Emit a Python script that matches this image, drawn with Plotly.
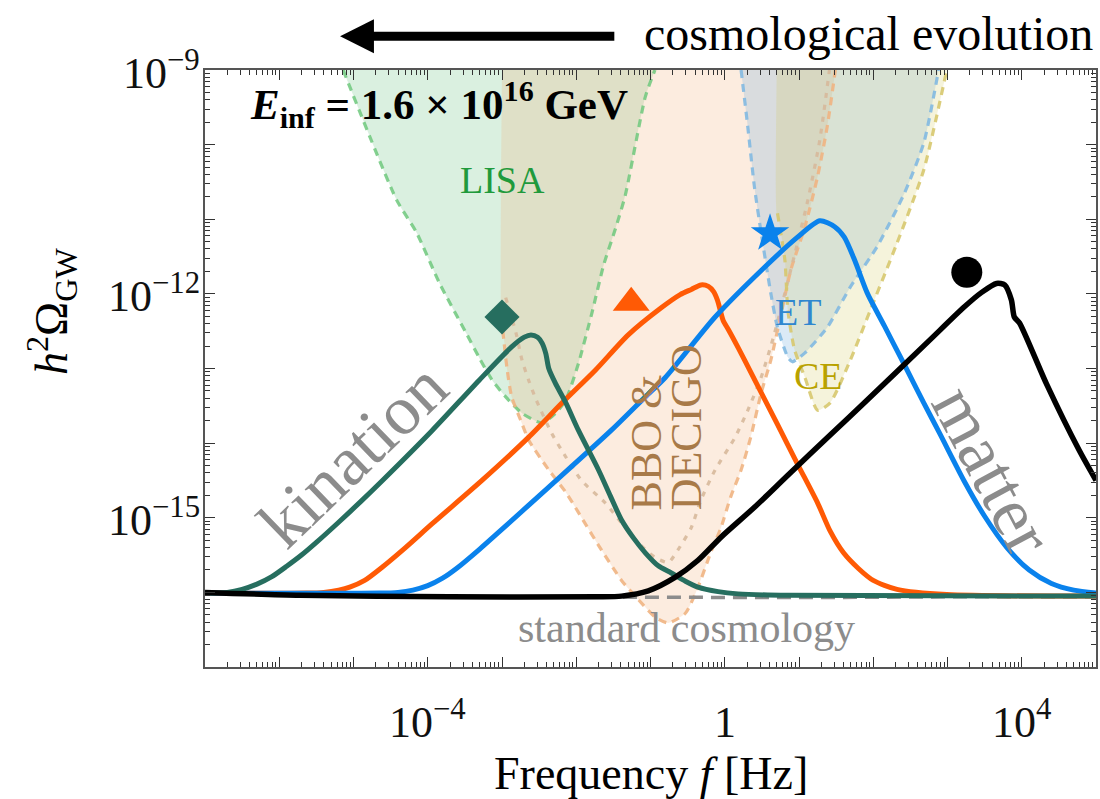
import plotly.graph_objects as go

FONT = "Liberation Serif"

# ---------------------------------------------------------------------------
# GW spectra for different post-inflationary histories
# (log10 of frequency in Hz, log10 of h^2 Omega_GW)
# ---------------------------------------------------------------------------
std_logf = [-7.0, -5.0, -3.0, -1.0, 1.0, 3.0, 5.0]
std_logomega = [-16.0, -16.04, -16.06, -16.07, -16.07, -16.06, -16.06]

kination_logf = [-7.0, -6.7, -6.5, -6.3, -6.1, -5.9, -5.7, -5.5, -5.2, -4.9,
                 -4.61, -3.94, -3.31, -2.87, -2.70, -2.61, -2.52, -2.46, -2.41, -2.37,
                 -2.28, -2.14, -1.97, -1.70, -1.54, -1.39, -1.23, -1.07, -0.90, -0.72,
                 -0.53, -0.36, -0.09, 0.18, 0.85, 5.0]
kination_logomega = [-16.01, -16.0, -15.96, -15.89, -15.79, -15.65, -15.50, -15.33, -15.06, -14.78,
                      -14.50, -13.83, -13.16, -12.71, -12.58, -12.55, -12.58, -12.66, -12.80, -13.00,
                      -13.20, -13.46, -13.83, -14.36, -14.71, -15.03, -15.27, -15.47, -15.64, -15.74,
                      -15.85, -15.93, -15.99, -16.02, -16.04, -16.05]

orange_logf = [-7.0, -5.63, -5.40, -5.20, -5.05, -4.85, -4.61, -4.30, -3.94, -3.27,
               -2.64, -2.19, -1.74, -1.30, -0.86, -0.60, -0.45, -0.32, -0.22, -0.15,
               -0.10, -0.06, -0.02, 0.05, 0.18, 0.35, 0.71, 0.98, 1.25, 1.42,
               1.60, 1.80, 2.00, 2.32, 2.99, 5.0]
orange_logomega = [-16.01, -16.01, -16.0, -15.97, -15.93, -15.84, -15.66, -15.40, -15.08, -14.50,
                   -13.92, -13.46, -13.02, -12.55, -12.19, -12.01, -11.94, -11.88, -11.90, -11.97,
                   -12.08, -12.22, -12.36, -12.48, -12.72, -13.05, -13.75, -14.28, -14.80, -15.18,
                   -15.47, -15.68, -15.84, -15.96, -16.03, -16.05]

blue_logf = [-7.0, -4.65, -4.40, -4.20, -4.00, -3.80, -3.60, -3.30, -3.04, -2.37,
             -1.53, -1.07, -0.80, -0.13, 0.54, 0.98, 1.28, 1.48, 1.61, 1.75,
             1.92, 2.15, 2.42, 2.68, 2.90, 3.22, 3.50, 3.80, 4.10, 4.40,
             4.70, 5.0]
blue_logomega = [-16.01, -16.01, -16.0, -15.97, -15.91, -15.81, -15.67, -15.42, -15.19, -14.59,
                 -13.83, -13.38, -13.12, -12.31, -11.64, -11.24, -11.02, -11.10, -11.24, -11.55,
                 -11.99, -12.43, -12.95, -13.46, -13.88, -14.50, -14.98, -15.40, -15.70, -15.88,
                 -15.97, -16.01]

matter_logf = [-7.0, -5.72, -3.71, -1.70, -1.39, -1.03, -0.67, -0.36, -0.05, 0.40,
               0.85, 1.42, 1.88, 2.76, 3.22, 3.46, 3.66, 3.77, 3.86, 3.90,
               3.97, 4.33, 4.77, 5.0]
matter_logomega = [-16.0, -16.04, -16.06, -16.06, -16.05, -15.98, -15.80, -15.57, -15.26, -14.86,
                   -14.43, -13.89, -13.46, -12.62, -12.18, -11.98, -11.86, -11.88, -12.08, -12.31,
                   -12.39, -13.20, -14.09, -14.50]

# Peak positions marked by symbols
peak_logf = [-3.0, -1.26, 0.61, 3.26]
peak_logomega = [-12.31, -12.12, -11.19, -11.71]

# ---------------------------------------------------------------------------
# Power-law integrated sensitivity curves
# ---------------------------------------------------------------------------
lisa_logf = [-5.14, -4.42, -4.15, -3.84, -3.48, -3.31, -3.13, -2.95, -2.73, -2.46,
             -2.28, -2.14, -1.97, -1.79, -1.63, -1.47, -1.34, -1.07, -0.94]
lisa_logomega = [-9.0, -10.74, -11.18, -11.86, -12.53, -12.85, -13.16, -13.38, -13.60, -13.73,
                 -13.60, -13.42, -12.93, -12.26, -11.61, -11.12, -10.68, -9.36, -9.0]

decigo_logf = [-2.99, -2.93, -2.87, -2.75, -2.64, -2.37, -2.14, -1.70, -1.39, -1.16,
               -0.94, -0.76, -0.53, -0.36, -0.19, -0.05, 0.08, 0.22, 0.35, 0.49,
               0.62, 0.75, 0.89, 1.08, 1.25, 1.38, 1.49]
decigo_logomega = [-12.49, -13.02, -13.38, -13.69, -13.96, -14.36, -14.66, -15.37, -15.84, -16.10,
                   -16.33, -16.41, -16.28, -15.93, -15.47, -15.13, -14.72, -14.36, -13.92, -13.33,
                   -12.89, -12.31, -11.68, -11.10, -10.43, -9.76, -9.0]

bbo_logf = [-2.95, -2.81, -2.73, -2.64, -2.54, -2.33, -2.20, -1.93, -1.61, -1.39,
            -1.16, -0.94, -0.76, -0.63, -0.45, -0.32, -0.13, 0.14, 0.31, 0.49,
            0.67, 0.81, 0.98, 1.12, 1.28, 1.41]
bbo_logomega = [-12.05, -12.53, -12.89, -13.16, -13.42, -13.87, -14.09, -14.50, -14.80, -15.07,
                -15.34, -15.53, -15.60, -15.43, -15.13, -14.76, -14.36, -13.92, -13.56, -13.12,
                -12.53, -11.99, -11.32, -10.74, -9.94, -9.0]
space_fmin_log = -3.0   # lower frequency cut of the BBO / DECIGO curves

et_logf = [0.22, 0.31, 0.40, 0.49, 0.62, 0.71, 0.85, 0.91, 1.08, 1.38,
           1.69, 2.05, 2.42, 2.68, 2.88]
et_logomega = [-9.0, -9.76, -10.57, -11.18, -11.99, -12.45, -12.85, -12.91, -12.79, -12.45,
               -11.91, -11.37, -10.65, -9.98, -9.0]

ce_logf = [0.71, 0.81, 0.85, 0.94, 1.08, 1.25, 1.42, 1.69, 1.96, 2.32, 2.68, 2.99]
ce_logomega = [-10.92, -11.55, -12.22, -12.75, -13.12, -13.56, -13.46, -12.89, -12.22, -11.32,
               -10.34, -9.0]
ce_fmin_log = 0.70      # lower frequency cut of the CE curve

# Axis ranges (log10) and labelled decades
LOG_X_RANGE = [-7, 5]
LOG_Y_RANGE = [-17, -9]
x_label_decades = [-4, 0, 4]
x_label_text = ["10<sup>\u22124</sup>", "1", "10<sup>4</sup>"]
y_label_decades = [-9, -12, -15]
y_label_text = ["10<sup>\u22129</sup>", "10<sup>\u221212</sup>", "10<sup>\u221215</sup>"]


def lin(values):
    return [10.0 ** v for v in values]


fig = go.Figure()


def add_region(logf, logo, fill, fmin_log=None):
    xs, ys = list(logf), list(logo)
    if fmin_log is not None:
        xs = [fmin_log, fmin_log] + xs
        ys = [LOG_Y_RANGE[1], logo[0]] + ys
    fig.add_trace(go.Scatter(
        x=lin(xs), y=lin(ys), mode="lines", fill="toself", fillcolor=fill,
        line=dict(width=0, shape="spline", smoothing=0.6), hoverinfo="skip", showlegend=False))


def add_outline(logf, logo, color, dash):
    fig.add_trace(go.Scatter(
        x=lin(logf), y=lin(logo), mode="lines",
        line=dict(color=color, width=3.2, dash=dash, shape="spline", smoothing=0.6),
        hoverinfo="skip", showlegend=False))


# shaded sensitivity regions
add_region(lisa_logf, lisa_logomega, "rgba(120,200,140,0.27)")
add_region(decigo_logf, decigo_logomega, "rgba(240,170,110,0.22)", space_fmin_log)
add_region(et_logf, et_logomega, "rgba(110,170,220,0.25)")
add_region(ce_logf, ce_logomega, "rgba(210,200,90,0.22)", ce_fmin_log)

# dashed / dotted outlines
add_outline(lisa_logf, lisa_logomega, "rgba(110,200,125,0.85)", "8px,6px")
add_outline(decigo_logf, decigo_logomega, "rgba(240,180,130,0.9)", "8px,6px")
add_outline(bbo_logf, bbo_logomega, "rgba(215,185,155,0.9)", "5px,7px")
add_outline(et_logf, et_logomega, "rgba(130,185,225,0.9)", "8px,6px")
add_outline(ce_logf, ce_logomega, "rgba(215,200,110,0.9)", "8px,6px")

# standard cosmology
fig.add_trace(go.Scatter(
    x=lin(std_logf), y=lin(std_logomega), mode="lines",
    line=dict(color="#8c8c8c", width=3.5, dash="14px,8px"),
    hoverinfo="skip", showlegend=False))

# spectra
spectra = [
    (orange_logf, orange_logomega, "#ff5a05", 5),
    (blue_logf, blue_logomega, "#0a82ec", 5),
    (kination_logf, kination_logomega, "#266e5f", 5),
    (matter_logf, matter_logomega, "#000000", 5.5),
]
for lf, lo, col, w in spectra:
    fig.add_trace(go.Scatter(
        x=lin(lf), y=lin(lo), mode="lines",
        line=dict(color=col, width=w, shape="spline", smoothing=0.7),
        hoverinfo="skip", showlegend=False))

# peak markers
fig.add_trace(go.Scatter(
    x=lin(peak_logf), y=lin(peak_logomega), mode="markers",
    marker=dict(symbol=["diamond", "triangle-up", "star", "circle"],
                size=[27, 32, 29, 31], opacity=1,
                color=["#266e5f", "#ff5a05", "#0a82ec", "#000000"],
                line=dict(width=0)),
    hoverinfo="skip", showlegend=False))

# axes: a long tick on every decade, short ticks on 2..9
x_major = [10.0 ** n for n in range(LOG_X_RANGE[0], LOG_X_RANGE[1] + 1)]
x_minor = [k * 10.0 ** n for n in range(LOG_X_RANGE[0], LOG_X_RANGE[1]) for k in range(2, 10)]
y_major = [10.0 ** n for n in range(LOG_Y_RANGE[0], LOG_Y_RANGE[1] + 1)]
y_minor = [k * 10.0 ** n for n in range(LOG_Y_RANGE[0], LOG_Y_RANGE[1]) for k in range(2, 10)]

axis_common = dict(
    type="log", showgrid=False, zeroline=False, showticklabels=False,
    showline=True, linecolor="#555555", linewidth=1.5, mirror="allticks",
    ticks="inside", ticklen=10, tickwidth=1.3, tickcolor="#333333",
)
fig.update_xaxes(range=LOG_X_RANGE, tickvals=x_major,
                 minor=dict(tickvals=x_minor, ticks="inside", ticklen=5, tickwidth=1.1,
                            tickcolor="#333333"),
                 **axis_common)
fig.update_yaxes(range=LOG_Y_RANGE, tickvals=y_major,
                 minor=dict(tickvals=y_minor, ticks="inside", ticklen=5, tickwidth=1.1,
                            tickcolor="#333333"),
                 **axis_common)

tick_font = dict(family=FONT, size=44, color="#111111")
for d, t in zip(x_label_decades, x_label_text):
    fig.add_annotation(x=d, y=-0.1374, xref="x", yref="paper", text=t, showarrow=False,
                       xanchor="center", yanchor="bottom", font=tick_font)
for d, t in zip(y_label_decades, y_label_text):
    fig.add_annotation(x=-0.003, y=d, xref="paper", yref="y", text=t, showarrow=False,
                       xanchor="right", yanchor="middle", font=tick_font)


def label(text, lf, lo, color, size, angle=0):
    fig.add_annotation(x=lf, y=lo, xref="x", yref="y", text=text, showarrow=False,
                       textangle=angle, font=dict(family=FONT, size=size, color=color),
                       xanchor="center", yanchor="middle")


label("LISA", -3.0, -10.47, "#1f9a3c", 38)
label("ET", 0.98, -12.24, "#2f87cf", 38)
label("CE", 1.26, -13.10, "#b9a200", 38)
label("BBO &amp;", -1.06, -13.99, "#a87a48", 44, -90)
label("DECIGO", -0.51, -13.79, "#a87a48", 44, -90)
label("kination", -5.02, -14.16, "#8c8c8c", 70, -44)
label("matter", 3.60, -14.36, "#8c8c8c", 70, 62)
label("standard cosmology", -0.52, -16.48, "#8c8c8c", 42)

fig.add_annotation(xref="paper", yref="paper", x=0.0486, y=0.9414, xanchor="left",
                   yanchor="middle", showarrow=False,
                   text="<b><i>E</i><sub>inf</sub> = 1.6 \u00d7 10<sup>16</sup> GeV</b>",
                   font=dict(family=FONT, size=43, color="#000000"))
fig.add_annotation(xref="paper", yref="paper", x=0.4905, y=1.061, xanchor="left",
                   yanchor="middle", showarrow=False, text="cosmological evolution",
                   font=dict(family=FONT, size=48, color="#000000"))
fig.add_annotation(xref="paper", yref="paper", x=0.5008, y=-0.1776, xanchor="center",
                   yanchor="middle", showarrow=False, text="Frequency <i>f</i> [Hz]",
                   font=dict(family=FONT, size=46, color="#000000"))
fig.add_annotation(xref="paper", yref="paper", x=-0.173, y=0.596, xanchor="center",
                   yanchor="middle", showarrow=False, textangle=-90,
                   text="<i>h</i><sup>2</sup>\u03a9<sub>GW</sub>",
                   font=dict(family=FONT, size=46, color="#000000"))

# "cosmological evolution" arrow
fig.add_shape(type="line", xref="paper", yref="paper", x0=0.186, y0=1.0566, x1=0.4594,
              y1=1.0566, line=dict(color="#000000", width=9))
fig.add_shape(type="path", xref="paper", yref="paper",
              path="M 0.1516,1.0566 L 0.1896,1.0849 L 0.1896,1.0280 Z",
              fillcolor="#000000", line=dict(width=0))

fig.update_layout(
    width=1100, height=799,
    margin=dict(l=205, r=2, t=70, b=132),
    paper_bgcolor="white", plot_bgcolor="white",
    showlegend=False,
)

fig.write_html("out.html")
